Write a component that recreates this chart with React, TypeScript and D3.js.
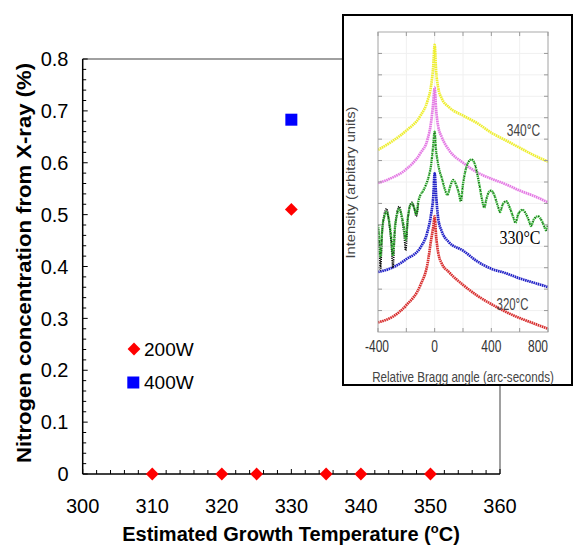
import React from "react";
import * as d3 from "d3";

// main chart data
const temps200 = [310, 320, 325, 330, 335, 340, 350];
const nitrogen200 = [0, 0, 0, 0.51, 0, 0, 0];
const temps400 = [330];
const nitrogen400 = [0.683];
const xTicks = [300, 310, 320, 330, 340, 350, 360];
const yTicks = [0, 0.1, 0.2, 0.3, 0.4, 0.5, 0.6, 0.7, 0.8];

// inset: XRD rocking curves (angle in arc-seconds, intensity arbitrary)
const insetTicksX = [-400, 0, 400, 800];
const curveAngles = [-400, -300, -200, -100, -50, -25, -10, 0, 10, 25, 50, 100, 200, 300, 400, 500, 600, 700, 800];
const yellow340 = [8.5, 8.9, 9.4, 10.1, 10.8, 11.5, 12.4, 13.4, 12.2, 11.4, 10.9, 10.5, 10.1, 9.75, 9.3, 8.95, 8.6, 8.25, 7.95];
const magenta = [6.95, 7.2, 7.6, 8.35, 9.0, 9.8, 10.7, 11.4, 10.4, 9.6, 9.1, 8.5, 7.9, 7.45, 7.15, 6.9, 6.6, 6.35, 6.05];
const blue = [2.8, 3.0, 3.4, 3.95, 4.7, 5.5, 6.3, 7.4, 6.4, 5.3, 4.7, 4.2, 3.8, 3.3, 2.95, 2.75, 2.5, 2.3, 2.1];
const red320 = [0.45, 0.7, 1.25, 2.2, 3.2, 4.3, 4.9, 5.4, 4.5, 3.7, 3.2, 2.8, 2.2, 1.7, 1.3, 0.95, 0.65, 0.4, 0.15];

const greenAngles = [-400, -390, -383, -370, -355, -340, -322, -305, -295, -280, -265, -250, -232, -215, -205, -190, -175, -160, -145, -130, -115, -100, -80, -60, -40, -25, -12, 0, 8, 20, 35, 50, 70, 90, 110, 130, 150, 170, 185, 200, 220, 240, 260, 280, 300, 320, 340, 350, 365, 385, 400, 420, 445, 462, 480, 505, 530, 555, 570, 590, 620, 645, 665, 680, 700, 730, 755, 775, 785, 800];
const green330 = [5.0, 4.2, 3.5, 4.8, 5.4, 5.6, 5.2, 4.3, 3.6, 4.9, 5.5, 5.75, 5.4, 4.8, 4.3, 5.3, 5.85, 6.0, 5.8, 5.5, 6.1, 6.4, 6.6, 6.9, 7.3, 7.8, 8.6, 9.35, 8.6, 8.0, 7.5, 7.2, 6.7, 6.4, 6.8, 7.1, 6.9, 6.5, 6.1, 6.9, 7.6, 7.95, 8.05, 7.9, 7.4, 6.7, 6.0, 5.8, 6.2, 6.55, 6.6, 6.4, 5.9, 5.6, 5.95, 6.1, 5.8, 5.35, 5.1, 5.5, 5.7, 5.5, 5.2, 4.95, 5.25, 5.4, 5.2, 4.9, 4.75, 5.0];
const simAngles = [-400, -390, -383, -370, -355, -340, -322, -305, -295, -280, -265, -250, -232, -215, -205, -190, -175, -160, -145, -130, -115];
const sim330 = [5.0, 3.9, 2.9, 4.7, 5.5, 5.75, 5.1, 4.0, 3.0, 4.8, 5.6, 5.85, 5.3, 4.5, 3.8, 5.2, 5.9, 6.05, 5.8, 5.4, 6.0];

const font = "'Liberation Sans', Arial, Helvetica, sans-serif";

export default function App() {
  const x = d3.scaleLinear().domain([300, 360]).range([82.7, 500]);
  const y = d3.scaleLinear().domain([0, 0.8]).range([474, 59]);

  const ix = d3.scaleLinear().domain([-400, 800]).range([378, 548]);
  const iy = d3.scaleLinear().domain([0, 14]).range([332, 32]);

  const diamond = d3.symbol(d3.symbolSquare, 82)();
  const square = d3.symbol(d3.symbolSquare, 144)();

  const minorX = d3.range(300, 361, 2);
  const minorY = d3.range(0, 0.801, 0.02);

  const line = (xs: number[]) =>
    d3
      .line<number>()
      .x((_, i) => ix(xs[i]))
      .y((d) => iy(d))
      .curve(d3.curveMonotoneX);

  const curves = [
    { xs: curveAngles, vals: red320, color: "#d83030" },
    { xs: curveAngles, vals: blue, color: "#2424c8" },
    { xs: curveAngles, vals: magenta, color: "#e47ae4" },
    { xs: curveAngles, vals: yellow340, color: "#eeee30" },
  ];

  const insetGridX = d3.range(-400, 801, 200);
  const insetGridY = d3.range(1, 14, 1);

  return (
    <svg width={573} height={545} style={{ position: "absolute", left: 0, top: 0, background: "#fff" }} fontFamily={font}>
      {/* frame */}
      <line x1={x(300)} x2={x(360)} y1={y(0.8)} y2={y(0.8)} stroke="#808080" strokeWidth={1.5} />
      <line x1={x(360)} x2={x(360)} y1={y(0.8)} y2={y(0)} stroke="#808080" strokeWidth={1.5} />
      {/* minor/major ticks */}
      {minorX.map((t) => (
        <line key={"mx" + t} x1={x(t)} x2={x(t)} y1={y(0)} y2={y(0) - (t % 10 === 0 ? 5 : 4)} stroke="#000" strokeWidth={1} />
      ))}
      {minorY.map((t, i) => (
        <line key={"my" + i} x1={x(300)} x2={x(300) + (i % 5 === 0 ? 5 : 3.5)} y1={y(t)} y2={y(t)} stroke="#000" strokeWidth={1} />
      ))}
      <line x1={x(300)} x2={x(360)} y1={y(0)} y2={y(0)} stroke="#000" strokeWidth={1.5} />
      <line x1={x(300)} x2={x(300)} y1={y(0)} y2={y(0.8)} stroke="#000" strokeWidth={1.5} />

      {xTicks.map((t) => (
        <text key={"xt" + t} x={x(t)} y={513} fontSize={20} textAnchor="middle" fill="#000">
          {t}
        </text>
      ))}
      {yTicks.map((t) => (
        <text key={"yt" + t} x={68.5} y={y(t)} dy="0.36em" fontSize={20} textAnchor="end" fill="#000">
          {t === 0 ? "0" : t.toFixed(1)}
        </text>
      ))}

      <text x={291} y={541} fontSize={20} fontWeight="bold" textAnchor="middle" fill="#000">
        Estimated Growth Temperature (<tspan fontSize={13} dy={-8}>o</tspan>
        <tspan dy={8}>C)</tspan>
      </text>
      <text
        transform={`translate(31,263) rotate(-90)`}
        fontSize={20}
        fontWeight="bold"
        textAnchor="middle"
        textLength={400}
        lengthAdjust="spacingAndGlyphs"
        fill="#000"
      >
        Nitrogen concentration from X-ray (%)
      </text>

      {/* data points */}
      {temps200.map((t, i) => (
        <path key={"d" + i} d={diamond} transform={`translate(${x(t)},${y(nitrogen200[i])}) rotate(45)`} fill="#ff0000" />
      ))}
      {temps400.map((t, i) => (
        <path key={"s" + i} d={square} transform={`translate(${x(t)},${y(nitrogen400[i])})`} fill="#0000ff" />
      ))}

      {/* legend */}
      <path d={diamond} transform="translate(134,349) rotate(45)" fill="#ff0000" />
      <text x={144} y={355.5} fontSize={19} fill="#000">200W</text>
      <path d={square} transform="translate(133.3,382.5)" fill="#0000ff" />
      <text x={144} y={389} fontSize={19} fill="#000">400W</text>

      {/* inset */}
      <rect x={343} y={15} width={229} height={370} fill="#fff" stroke="#000" strokeWidth={2} />
      {insetGridX.map((t) => (
        <line key={"gx" + t} x1={ix(t)} x2={ix(t)} y1={32} y2={332} stroke="#f0f0f0" strokeWidth={1} />
      ))}
      {insetGridY.map((t) => (
        <line key={"gy" + t} x1={378} x2={548} y1={iy(t)} y2={iy(t)} stroke="#f0f0f0" strokeWidth={1} />
      ))}
      <defs>
        <clipPath id="insetClip">
          <rect x={378} y={32} width={170} height={300} />
        </clipPath>
      </defs>
      <g clipPath="url(#insetClip)">
        {curves.map((c, k) => (
          <path key={"c" + k} d={line(c.xs)(c.vals) || ""} fill="none" stroke={c.color} strokeWidth={2.7} strokeDasharray="1.6 0.6" />
        ))}
        <path d={line(simAngles)(sim330) || ""} fill="none" stroke="#111" strokeWidth={1.8} strokeDasharray="1.2 1" />
        <path d={line(greenAngles)(green330) || ""} fill="none" stroke="#38b838" strokeWidth={2.4} strokeDasharray="1.5 0.7" />
        <path d={line(greenAngles)(green330) || ""} fill="none" stroke="#103810" strokeWidth={1.2} strokeDasharray="1 3" />
      </g>
      <rect x={378} y={32} width={170} height={300} fill="none" stroke="#aaa" strokeWidth={1} />
      {insetGridX.map((t) => (
        <g key={"itx" + t}>
          <line x1={ix(t)} x2={ix(t)} y1={332} y2={328} stroke="#999" />
          <line x1={ix(t)} x2={ix(t)} y1={32} y2={36} stroke="#999" />
        </g>
      ))}
      {insetGridY.map((t) => (
        <g key={"ity" + t}>
          <line x1={378} x2={382} y1={iy(t)} y2={iy(t)} stroke="#999" />
          <line x1={548} x2={544} y1={iy(t)} y2={iy(t)} stroke="#999" />
        </g>
      ))}
      {insetTicksX.map((t, i) => (
        <text
          key={"itl" + t}
          transform={`translate(${ix(t) + (i === 0 ? -1 : 0)},351.5) scale(1,1.3)`}
          fontSize={12}
          textAnchor={i === insetTicksX.length - 1 ? "end" : "middle"}
          fill="#333"
        >
          {t}
        </text>
      ))}
      <text transform="translate(463,381.5) scale(1,1.25)" fontSize={11.6} textAnchor="middle" fill="#444">
        Relative Bragg angle (arc-seconds)
      </text>
      <text
        transform="translate(355,182.5) rotate(-90)"
        fontSize={12}
        textAnchor="middle"
        textLength={152}
        lengthAdjust="spacingAndGlyphs"
        fill="#444"
      >
        Intensity (arbitary units)
      </text>
      <text transform="translate(523.5,136) scale(1,1.4)" fontSize={12} textAnchor="middle" fill="#444">
        340°C
      </text>
      <text transform="translate(512.5,310) scale(1,1.4)" fontSize={11.4} textAnchor="middle" fill="#444">
        320°C
      </text>
      <text transform="translate(520,243.5) scale(1,1.2)" fontSize={16} textAnchor="middle" fill="#000" fontFamily="'Liberation Serif', 'Times New Roman', serif">
        330°C
      </text>
    </svg>
  );
}
